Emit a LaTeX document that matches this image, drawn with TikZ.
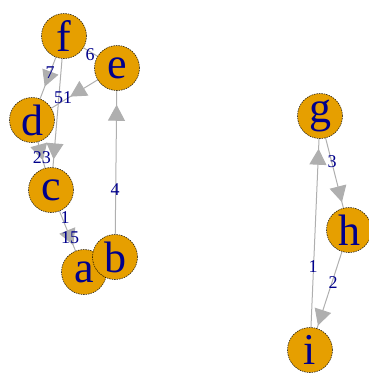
\documentclass[tikz,border=0pt]{standalone}
\usepackage{fontspec}
\setmainfont{Liberation Serif}
\usetikzlibrary{arrows.meta,decorations.markings,backgrounds}
\definecolor{vfill}{RGB}{230,159,0}
\definecolor{vlabel}{RGB}{0,0,139}
\definecolor{egray}{RGB}{175,175,175}

\begin{document}
\begin{tikzpicture}[
  x=1pt, y=-1pt,
  vtx/.style={circle, draw=black, dash pattern=on 1.5pt off 1pt, line width=0.5pt,
    fill=vfill, minimum size=45pt, inner sep=0pt, text=vlabel,
    font=\fontsize{44}{44}\selectfont},
  elbl/.style={text=vlabel, inner sep=0pt, font=\fontsize{18}{18}\selectfont},
  link/.style={draw=egray, line width=1pt},
  headat/.style={postaction={decorate}, decoration={markings,
    mark=at position -#1 with {\arrow{Triangle[length=16pt,width=17pt,color=egray]}}}}
]
  \useasboundingbox (0,0) rectangle (369,373);

  % left group
  \node[vtx] (f) at (64,36) {f};
  \node[vtx] (e) at (117,68) {e};
  \node[vtx] (d) at (32,120) {d};
  \node[vtx] (c) at (51,190) {c};
  \node[vtx] (a) at (84,272) {a};
  \node[vtx] (b) at (115,257) {b};

  % right group
  \node[vtx] (g) at (320,116) {g};
  \node[vtx] (h) at (349,230) {h};
  \node[vtx] (i) at (310,350) {i};

  % edges under the vertices
  \begin{scope}[on background layer]
    \draw[link] (f) -- (e);
    \draw[link, headat=13pt] (f) -- (d);
    \draw[link, headat=22pt] (e) -- (d);
    \draw[link, headat=8pt] (f) -- (c);
    \draw[link, headat=8pt] (d) -- (c);
    \draw[link, headat=6pt] (c) -- (a);
    \draw[link, headat=14pt] (b) -- (e);
    \draw[link, headat=6pt] (g) -- (h);
    \draw[link, headat=3pt] (h) -- (i);
    \draw[link, headat=10pt] (i) -- (g);
  \end{scope}

  % edge labels
  \node[elbl] (lfe) at (90,55) {6};
  \node[elbl] (lfd) at (50,73) {7};
  \node[elbl] (led) at (63,98) {51};
  \node[elbl] (ldc) at (42,158) {23};
  \node[elbl] (lca) at (65,218) {1};
  \node[elbl] (lac) at (70,238) {15};
  \node[elbl] (lbe) at (115,190) {4};
  \node[elbl] (lgh) at (332,162) {3};
  \node[elbl] (lig) at (313,267) {1};
  \node[elbl] (lhi) at (333,283) {2};
\end{tikzpicture}
\end{document}
